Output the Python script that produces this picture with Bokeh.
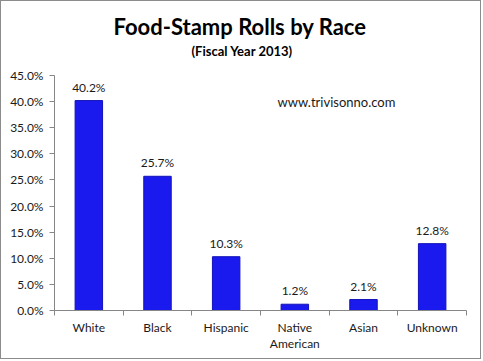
from bokeh.plotting import figure
from bokeh.models import (ColumnDataSource, LabelSet, Label, FixedTicker,
                          NumeralTickFormatter, Title)
from bokeh.core.properties import value
from bokeh.embed import file_html
from bokeh.resources import INLINE

categories = ["White", "Black", "Hispanic", "Native\nAmerican", "Asian", "Unknown"]
shares = [0.402, 0.257, 0.103, 0.012, 0.021, 0.128]
y_ticks = [0.0, 0.05, 0.10, 0.15, 0.20, 0.25, 0.30, 0.35, 0.40, 0.45]

FONT = "Lato"
pos = [i + 0.5 for i in range(len(categories))]
labels = ["%.1f%%" % (v * 100) for v in shares]
src = ColumnDataSource(dict(x=pos, top=shares, lab=labels))

p = figure(width=481, height=359, output_backend="svg", toolbar_location=None,
           x_range=(0, len(categories)), y_range=(0, 0.45),
           min_border_left=53, min_border_right=16, min_border_top=74,
           min_border_bottom=50, tools="")
p.styles = {"border": "1px solid #8c8c8c"}
p.outline_line_color = None
p.xgrid.visible = False
p.ygrid.visible = False

p.vbar(x="x", top="top", width=0.4, source=src,
       fill_color="#1a1aef", line_color="#1212b8", line_width=1)

p.add_layout(LabelSet(x="x", y="top", text="lab", source=src, y_offset=6,
                      text_align="center", text_baseline="bottom",
                      text_font=value(FONT), text_font_size=value("12px"),
                      text_color="#1a1a1a"))

# axes
p.yaxis.ticker = FixedTicker(ticks=y_ticks)
p.yaxis.formatter = NumeralTickFormatter(format="0.0%")
p.yaxis.major_tick_in = 0
p.yaxis.major_tick_out = 5
p.yaxis.minor_tick_line_color = None
p.yaxis.axis_line_color = "#868686"
p.yaxis.major_tick_line_color = "#868686"
p.yaxis.major_label_text_font = FONT
p.yaxis.major_label_text_font_size = "12px"
p.yaxis.major_label_text_color = "#1a1a1a"
p.yaxis.major_label_standoff = 6

p.xaxis.ticker = FixedTicker(ticks=pos, minor_ticks=list(range(len(categories) + 1)))
p.xaxis.major_label_overrides = {x: c for x, c in zip(pos, categories)}
p.xaxis.major_tick_in = 0
p.xaxis.major_tick_out = 0
p.xaxis.minor_tick_in = 0
p.xaxis.minor_tick_out = 5
p.xaxis.axis_line_color = "#868686"
p.xaxis.minor_tick_line_color = "#868686"
p.xaxis.major_label_text_font = FONT
p.xaxis.major_label_text_font_size = "12px"
p.xaxis.major_label_text_line_height = 1.1
p.xaxis.major_label_text_color = "#1a1a1a"
p.xaxis.major_label_standoff = 4

# titles (later added = farther from the frame); first one is a blank spacer
p.add_layout(Title(text=" ", text_font_size="12px", standoff=0), "above")
p.add_layout(Title(text="(Fiscal Year 2013)", align="left", offset=137,
                   text_font=FONT, text_font_style="bold",
                   text_font_size="13px", text_color="#000000", standoff=2), "above")
p.add_layout(Title(text="Food-Stamp Rolls by Race", align="left", offset=59,
                   text_font=FONT, text_font_style="bold",
                   text_font_size="22px", text_color="#000000", standoff=0), "above")

p.add_layout(Label(x=223, y=209, x_units="screen", y_units="screen",
                   text="www.trivisonno.com", text_align="left",
                   text_baseline="middle", text_font=FONT,
                   text_font_size="13px", text_color="#1a1a1a"))

open("out.html", "w").write(file_html(p, INLINE))
